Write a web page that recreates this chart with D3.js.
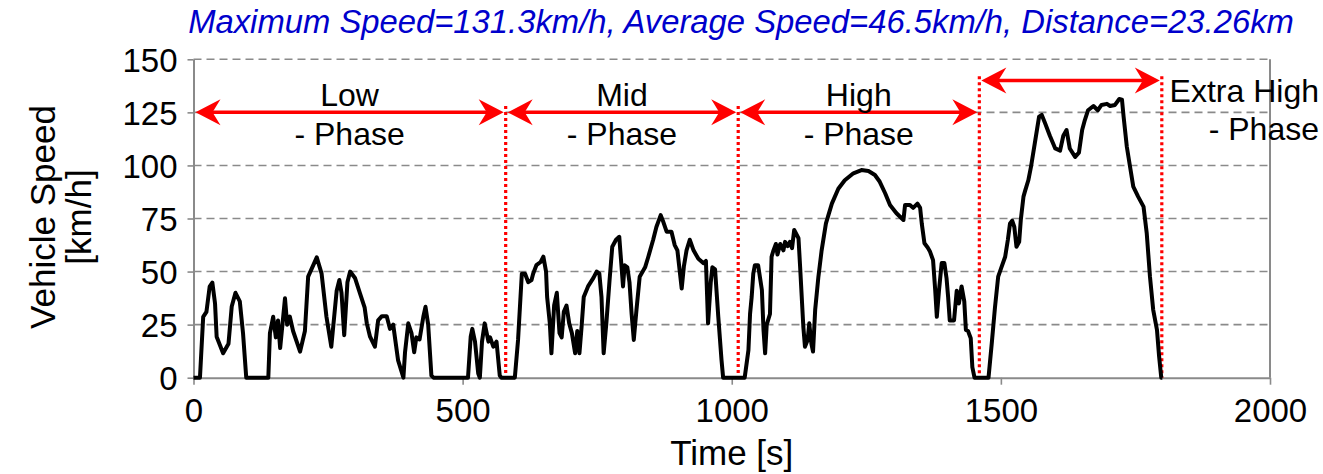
<!DOCTYPE html>
<html>
<head>
<meta charset="utf-8">
<script src="https://cdn.jsdelivr.net/npm/d3@7"></script>
<style>
  body { margin: 0; background: #fff; }
  text { font-family: "Liberation Sans", Arial, sans-serif; fill: #000; }
</style>
</head>
<body>
<div id="chart"></div>
<script>
// speed trace (s, km/h)
var time = [0, 12, 18, 24, 30, 35, 40, 43, 55, 65, 71, 78, 86, 92, 98, 139, 142, 148, 153, 157, 161, 170, 174, 179, 185, 198, 207, 213, 229, 238, 247, 256, 266, 271, 275, 280, 286, 291, 300, 309, 318, 322, 328, 337, 343, 350, 359, 365, 371, 380, 390, 393, 399, 405, 410, 414, 420, 427, 431, 436, 442, 446, 510, 515, 518, 523, 529, 532, 536, 541, 548, 551, 557, 563, 569, 572,
  597, 603, 610, 616, 622, 628, 631, 637, 645, 650, 655, 657, 662, 665, 670, 675, 680, 684, 688, 693, 698, 703, 709, 713, 717, 721, 725, 733, 743, 749, 754, 758, 762, 767, 773, 778, 785, 791, 795, 798, 801, 806, 810, 814, 818, 823, 829, 839, 845, 854, 860, 868, 872, 879, 888, 894, 899, 907, 911, 916, 922, 929, 938, 947, 952, 956, 961, 964, 969, 975, 981, 984,
  1024, 1031, 1034, 1037, 1040, 1043, 1049, 1056, 1059, 1062, 1065, 1071, 1074, 1077, 1082, 1085, 1090, 1096, 1099, 1104, 1108, 1112, 1116, 1124, 1127, 1133, 1136, 1141, 1144, 1148, 1151, 1155, 1161, 1167, 1175, 1186, 1198, 1210, 1226, 1241, 1254, 1266, 1275, 1285, 1294, 1306, 1319, 1322, 1331, 1337, 1345, 1350, 1353, 1358, 1364, 1368, 1374, 1378, 1381, 1385, 1390, 1395, 1399, 1402, 1405, 1413, 1418, 1422, 1427, 1432, 1435, 1439, 1444, 1447, 1451,
  1477, 1483, 1489, 1495, 1501, 1508, 1513, 1517, 1521, 1525, 1529, 1534, 1537, 1542, 1545, 1551, 1556, 1563, 1571, 1576, 1582, 1591, 1601, 1610, 1616, 1622, 1628, 1638, 1645, 1651, 1656, 1662, 1672, 1680, 1687, 1697, 1703, 1712, 1720, 1725, 1728, 1734, 1740, 1746, 1755, 1765, 1771, 1777, 1783, 1790, 1794, 1798, 1800];
var speed = [0, 0, 28.7, 31, 42.9, 44.8, 35, 19.3, 11.5, 16, 33.5, 40, 36, 21, 0, 0, 21, 28.7, 19, 27, 14, 37.4, 25, 28.8, 22, 12.3, 22, 47.6, 56.7, 49, 28.7, 14.6, 41, 46, 40, 20, 45, 50, 47, 40, 33, 25.6, 19.3, 14.6, 27, 29, 29, 23, 25, 8.3, 0, 12, 25.6, 21, 12, 19, 18, 28.7, 33.4, 25, 1, 0, 0, 19.3, 23, 17, 2, 0, 17, 25.6, 17, 19, 14.6, 17, 1, 0,
  0, 17.8, 49, 49, 45, 46, 49, 53, 54.5, 57, 50, 38, 25.6, 11.5, 34, 40, 21, 19, 31, 34, 25.6, 21, 11.5, 22, 11.5, 24, 38, 43, 47, 50, 49, 38, 11.5, 25.6, 46, 61.7, 65, 66.4, 53, 43, 53, 52, 45, 30, 17.8, 32, 47.6, 52, 57, 65, 71, 76.6, 74, 68.8, 68.8, 62.5, 60, 42, 52.3, 60, 65, 60, 56, 54, 55, 25.6, 45, 52, 51, 28.7, 8.3, 0,
  0, 13, 30, 38, 49, 53, 53, 41.3, 22.5, 11.5, 25, 30, 57, 59.6, 63, 58, 63, 60, 64, 62, 64, 61, 69.6, 65.7, 52.3, 24, 14.6, 17.8, 25.6, 16, 12.3, 32, 47.6, 60, 72.7, 82, 89, 93, 96.3, 97.8, 97.4, 95.5, 92.3, 86.9, 81.4, 77.5, 74.3, 81.4, 81.4, 80, 82, 80, 72.7, 63.3, 61.3, 59.6, 55.4, 41.3, 28.7, 41, 54, 54, 47, 38, 27, 27, 41, 35, 43, 36, 22.5, 22, 18.6, 5, 0,
  0, 16, 33, 47.6, 52, 57, 65, 72.7, 74, 71, 61.7, 64, 74.3, 85.3, 88, 93, 99.4, 110.4, 123, 123.8, 120, 114, 108, 107, 114, 116.7, 108, 104, 106, 116.7, 121.4, 126, 128, 126, 128.5, 129, 128, 128.5, 131.3, 131, 123, 108.8, 99.4, 90, 85.3, 80.6, 68, 47.6, 32, 22.5, 10, 0, 0];

var xTicks = [0, 500, 1000, 1500, 2000];
var yTicks = [0, 25, 50, 75, 100, 125, 150];
var gridValues = [25, 50, 75, 100, 125, 150];

// phase boundaries (s) and labels
var phaseBounds = [0, 580, 1012, 1460, 1799];
var phaseNames = ["Low", "Mid", "High", "Extra High"];
var arrowLevels = [125, 125, 125, 140];
var dividerTimes = [580, 1012, 1460, 1799];
var dividerTops = [128, 128, 142, 142];

var titleText = "Maximum Speed=131.3km/h, Average Speed=46.5km/h, Distance=23.26km";

var svgWidth = 1323;
var svgHeight = 474;

var margin = {
  top: 59.3,
  right: 53,
  bottom: 96.3,
  left: 193.5
};

var width = svgWidth - margin.left - margin.right;
var height = svgHeight - margin.top - margin.bottom;

var svg = d3.select("#chart")
  .append("svg")
  .attr("width", svgWidth)
  .attr("height", svgHeight);

var chartGroup = svg.append("g")
  .attr("transform", `translate(${margin.left}, ${margin.top})`);

var xScale = d3.scaleLinear().domain([0, 2000]).range([0, width]);
var yScale = d3.scaleLinear().domain([0, 150]).range([height, 0]);

// dashed gridlines
chartGroup.append("g")
  .selectAll("line")
  .data(gridValues)
  .enter()
  .append("line")
  .attr("x1", 0)
  .attr("x2", width)
  .attr("y1", d => yScale(d))
  .attr("y2", d => yScale(d))
  .attr("stroke", "#8a8a8a")
  .attr("stroke-width", 1.6)
  .attr("stroke-dasharray", "8,5");

// axes
var bottomAxis = d3.axisBottom(xScale).tickValues(xTicks).tickFormat(d3.format("d"))
  .tickSize(7).tickSizeOuter(0).tickPadding(6);
var leftAxis = d3.axisLeft(yScale).tickValues(yTicks).tickFormat(d3.format("d"))
  .tickSize(6).tickSizeOuter(0).tickPadding(10);

var xAxisG = chartGroup.append("g")
  .attr("transform", `translate(0, ${height})`)
  .call(bottomAxis);

var yAxisG = chartGroup.append("g")
  .call(leftAxis);

[xAxisG, yAxisG].forEach(function(g) {
  g.select(".domain").attr("stroke", "#8a8a8a").attr("stroke-width", 2);
  g.selectAll(".tick line").attr("stroke", "#8a8a8a").attr("stroke-width", 1.6);
  g.selectAll(".tick text")
    .attr("fill", "#000")
    .style("font-family", "'Liberation Sans', Arial, sans-serif")
    .style("font-size", "33px");
});
xAxisG.selectAll(".tick text").attr("dy", "0.95em");
yAxisG.selectAll(".tick text").attr("dy", "0.36em");

// right border
chartGroup.append("line")
  .attr("x1", width).attr("x2", width)
  .attr("y1", 0).attr("y2", height)
  .attr("stroke", "#8a8a8a")
  .attr("stroke-width", 2);

// red dotted phase dividers
chartGroup.append("g")
  .selectAll("line")
  .data(dividerTimes)
  .enter()
  .append("line")
  .attr("x1", d => xScale(d))
  .attr("x2", d => xScale(d))
  .attr("y1", (d, i) => yScale(dividerTops[i]))
  .attr("y2", height)
  .attr("stroke", "#ff0000")
  .attr("stroke-width", 3.2)
  .attr("stroke-dasharray", "3,3");

// speed line
var line = d3.line()
  .x((d, i) => xScale(time[i]))
  .y(d => yScale(d));

chartGroup.append("path")
  .datum(speed)
  .attr("d", line)
  .attr("fill", "none")
  .attr("stroke", "#000")
  .attr("stroke-width", 4)
  .attr("stroke-linejoin", "round");

// double arrows
function arrowHead(x, y, dir) {
  // stealth style head, tip at (x, y), dir = -1 points left, 1 points right
  var L = 25, H = 13, N = 17;
  return `M${x},${y} L${x - dir * L},${y - H} L${x - dir * N},${y} L${x - dir * L},${y + H} Z`;
}

var arrowsG = chartGroup.append("g");
phaseNames.forEach(function(name, i) {
  var x1 = xScale(phaseBounds[i]) + 2;
  var x2 = xScale(phaseBounds[i + 1]) - 2;
  var y = yScale(arrowLevels[i]);
  arrowsG.append("line")
    .attr("x1", x1 + 15).attr("x2", x2 - 15)
    .attr("y1", y).attr("y2", y)
    .attr("stroke", "#ff0000")
    .attr("stroke-width", 3.5);
  arrowsG.append("path").attr("d", arrowHead(x1, y, -1)).attr("fill", "#ff0000");
  arrowsG.append("path").attr("d", arrowHead(x2, y, 1)).attr("fill", "#ff0000");
});

// phase labels
phaseNames.slice(0, 3).forEach(function(name, i) {
  var cx = xScale((phaseBounds[i] + phaseBounds[i + 1]) / 2);
  chartGroup.append("text")
    .attr("x", cx).attr("y", 46.5)
    .attr("text-anchor", "middle")
    .style("font-size", "32px")
    .text(name);
  chartGroup.append("text")
    .attr("x", cx).attr("y", 85.5)
    .attr("text-anchor", "middle")
    .style("font-size", "32px")
    .text("- Phase");
});
svg.append("text")
  .attr("x", 1319).attr("y", 101.5)
  .attr("text-anchor", "end")
  .style("font-size", "32px")
  .text(phaseNames[3]);
svg.append("text")
  .attr("x", 1319).attr("y", 140)
  .attr("text-anchor", "end")
  .style("font-size", "32px")
  .text("- Phase");

// title
svg.append("text")
  .attr("x", 741).attr("y", 33)
  .attr("text-anchor", "middle")
  .style("font-size", "32.8px")
  .style("font-style", "italic")
  .style("fill", "#0000cc")
  .text(titleText);

// axis titles
svg.append("text")
  .attr("transform", "translate(55, 217) rotate(-90)")
  .attr("text-anchor", "middle")
  .style("font-size", "35px")
  .text("Vehicle Speed");
svg.append("text")
  .attr("transform", "translate(91, 217) rotate(-90)")
  .attr("text-anchor", "middle")
  .style("font-size", "35px")
  .text("[km/h]");
svg.append("text")
  .attr("x", margin.left + width / 2).attr("y", 465)
  .attr("text-anchor", "middle")
  .style("font-size", "35px")
  .text("Time [s]");
</script>
</body>
</html>
